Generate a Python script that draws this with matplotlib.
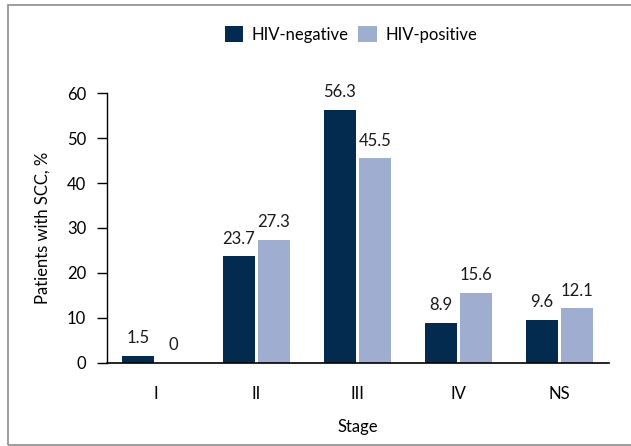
import matplotlib
matplotlib.use("Agg")
import matplotlib.pyplot as plt
from matplotlib.patches import Rectangle
import numpy as np

stages = ["I", "II", "III", "IV", "NS"]
hiv_negative = [1.5, 23.7, 56.3, 8.9, 9.6]
hiv_positive = [0, 27.3, 45.5, 15.6, 12.1]
yticks = [0, 10, 20, 30, 40, 50, 60]

NAVY = "#032b50"
LIGHT = "#9eadd0"

plt.rcParams["font.family"] = ["Lato", "DejaVu Sans"]

fig = plt.figure(figsize=(6.31, 4.46), dpi=100)
ax = fig.add_axes([107 / 631, 1 - 362.7 / 446, (609 - 107) / 631, (362.7 - 93.3) / 446])

# outer frame
fig.patches.append(Rectangle((8 / 631, 1 - 445 / 446), 640 / 631, 440 / 446,
                             transform=fig.transFigure, fill=False,
                             edgecolor="#8c8c8c", linewidth=1.2))

x = np.arange(len(stages))
w = 0.317
gap = 0.03
off = (w + gap) / 2
b1 = ax.bar(x - off, hiv_negative, w, color=NAVY, label="HIV-negative")
b2 = ax.bar(x + off, hiv_positive, w, color=LIGHT, label="HIV-positive")

for bars, vals in ((b1, hiv_negative), (b2, hiv_positive)):
    for r, v in zip(bars, vals):
        ax.annotate(f"{v:g}", (r.get_x() + r.get_width() / 2, v),
                    xytext=(0, 7), textcoords="offset points",
                    ha="center", va="bottom", fontsize=12, color="#1a1a1a")

ax.set_xlim(-0.48, 4.49)
ax.set_ylim(0, 60)
ax.set_yticks(yticks)
ax.set_xticks(x)
ax.set_xticklabels(stages)
ax.tick_params(axis="x", length=0, pad=17, labelsize=12)
ax.tick_params(axis="y", length=7, width=1, pad=8, labelsize=12, direction="out")
for s in ("top", "right"):
    ax.spines[s].set_visible(False)
ax.spines["left"].set_linewidth(1)
ax.spines["bottom"].set_linewidth(1.2)
ax.set_ylabel("Patients with SCC, %", fontsize=12, labelpad=12)
ax.set_xlabel("Stage", fontsize=12, labelpad=12)

fig.legend(loc="upper center", bbox_to_anchor=(0.556, 0.975), ncol=2, frameon=False,
           fontsize=12, handlelength=1.1, handleheight=1.1, handletextpad=0.5,
           columnspacing=0.6)

fig.savefig("out.png", dpi=100)
